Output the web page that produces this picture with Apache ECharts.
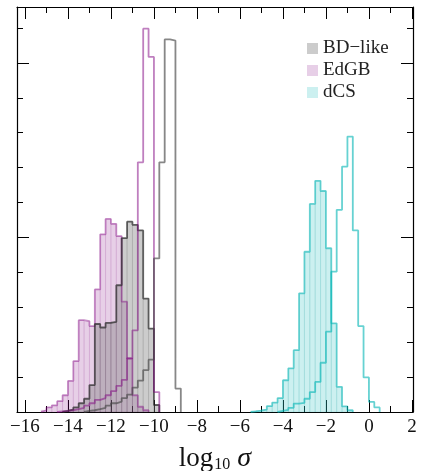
<!DOCTYPE html>
<html>
<head>
<meta charset="utf-8">
<script src="https://cdn.jsdelivr.net/npm/echarts@6/dist/echarts.min.js"></script>
<style>
  html, body {margin: 0; padding: 0; background: #fff;}
  #chart {width: 421px; height: 471px;}
</style>
</head>
<body>
<div id="chart"></div>
<script>
// histogram bins, width 0.25 in log10 sigma, heights
const binWidth = 0.25;
const xMajorTicks = [-16, -14, -12, -10, -8, -6, -4, -2, 0, 2];
const xMinorTicks = [-15, -13, -11, -9, -7, -5, -3, -1, 1];

// BD-like
const bdFilledStart = -14.25;
const bdFilled = [0.03, 0.07, 0.13, 0.25, 0.38, 0.77, 2.52, 2.42, 2.55, 2.58, 3.63, 4.98, 5.45, 5.36, 5.2, 3.25, 2.39, 0.2];
const bdOpenStart = -13.25;
const bdOpen = [0.03, 0.05, 0.08, 0.12, 0.18, 0.25, 0.3, 0.4, 0.5, 0.7, 0.9, 1.2, 1.5, 4.4, 7.15, 10.67, 10.64, 0.67];

// EdGB
const edgbFilledStart = -15.25;
const edgbFilled = [0.05, 0.13, 0.19, 0.31, 0.48, 0.89, 1.46, 2.63, 2.6, 2.46, 3.51, 5.09, 5.53, 5.39, 5.04, 3.16, 1.53, 0.48, 0.15, 0.05];
const edgbOpenStart = -14.5;
const edgbOpen = [0.02, 0.03, 0.05, 0.08, 0.12, 0.18, 0.25, 0.35, 0.4, 0.48, 0.6, 0.75, 0.92, 1.54, 2.34, 7.15, 10.98, 10.17, 0.57];

// dCS
const dcsFilledStart = -5.5;
const dcsFilled = [0.02, 0.04, 0.07, 0.17, 0.27, 0.4, 0.91, 1.25, 1.77, 3.4, 4.59, 5.96, 6.62, 6.33, 4.69, 2.54, 0.72, 0.16, 0.05];
const dcsOpenStart = -4.25;
const dcsOpen = [0.03, 0.06, 0.12, 0.24, 0.26, 0.38, 0.57, 0.86, 1.41, 2.3, 4.02, 5.79, 7.03, 7.89, 5.2, 2.46, 0.99, 0.29, 0.13];

const serif = 'Liberation Serif';

function toBins(start, heights) {
    return heights.map(function (h, i) {
        return [start + i * binWidth, start + (i + 1) * binWidth, h];
    });
}
function toStep(start, heights) {
    let pts = [[start, 0]];
    heights.forEach(function (h, i) {
        pts.push([start + i * binWidth, h]);
    });
    pts.push([start + heights.length * binWidth, 0]);
    return pts;
}

function filled(name, start, heights, fill, edge) {
    return {
        name: name, type: 'custom', xAxisIndex: 0, yAxisIndex: 0,
        itemStyle: {color: fill},
        data: toBins(start, heights),
        encode: {x: [0, 1], y: 2},
        renderItem: function (params, api) {
            let p0 = api.coord([api.value(0), api.value(2)]);
            let p1 = api.coord([api.value(1), 0]);
            return {
                type: 'rect',
                shape: {x: p0[0], y: p0[1], width: p1[0] - p0[0], height: p1[1] - p0[1]},
                style: {fill: fill, stroke: edge, lineWidth: 0.8}
            };
        }
    };
}
function outline(start, heights, color) {
    return {
        type: 'line', step: 'end', symbol: 'none', xAxisIndex: 0, yAxisIndex: 0,
        data: toStep(start, heights),
        lineStyle: {color: color, width: 1.8},
        silent: true
    };
}

function xAxisDef(pos, ticks, len, main) {
    return {
        type: 'value', position: pos, min: -16.37, max: 2.05,
        axisLine: {show: main, onZero: false, lineStyle: {color: '#000', width: 1.2}},
        axisTick: {show: true, inside: true, length: len, customValues: ticks, lineStyle: {color: '#000', width: 1}},
        axisLabel: {show: main && pos === 'bottom', customValues: ticks, margin: 6,
            fontFamily: serif, fontSize: 19, color: '#111',
            formatter: function (v) { return String(v).replace('-', '\u2212'); }},
        splitLine: {show: false}
    };
}
function yAxisDef(pos) {
    return {
        type: 'value', position: pos, min: 0, max: 11.6, interval: 5,
        axisLine: {show: true, onZero: false, lineStyle: {color: '#000', width: 1.2}},
        axisTick: {show: true, inside: true, length: 12, lineStyle: {color: '#000', width: 1}},
        minorTick: {show: true, splitNumber: 5, length: 6, lineStyle: {color: '#000', width: 1}},
        axisLabel: {show: false},
        splitLine: {show: false},
        minorSplitLine: {show: false}
    };
}

let xAxes = [
    xAxisDef('bottom', xMajorTicks, 12, true),
    xAxisDef('bottom', xMinorTicks, 6, false),
    xAxisDef('top', xMajorTicks, 12, true),
    xAxisDef('top', xMinorTicks, 6, false)
];
xAxes[0].name = '{a|log}{b|10}{c| \u03c3}';
xAxes[0].nameLocation = 'middle';
xAxes[0].nameGap = 33;
xAxes[0].nameTextStyle = {
    rich: {
        a: {fontFamily: serif, fontSize: 27, color: '#111'},
        b: {fontFamily: serif, fontSize: 16, color: '#111', verticalAlign: 'bottom', padding: [9, 0, 0, 1]},
        c: {fontFamily: serif, fontSize: 28, fontStyle: 'italic', color: '#111'}
    }
};

let e1 = echarts.init(document.getElementById('chart'), null, {renderer: 'canvas'});
e1.setOption({
    animation: false,
    backgroundColor: '#fff',
    grid: {left: 17, right: 8, top: 7, bottom: 59, containLabel: false, outerBoundsMode: 'none'},
    legend: {
        data: ['BD\u2212like', 'EdGB', 'dCS'],
        orient: 'vertical', left: 307, top: 39, padding: 0,
        icon: 'rect', itemWidth: 11, itemHeight: 11, itemGap: 3,
        textStyle: {fontFamily: serif, fontSize: 19, color: '#222', lineHeight: 18}
    },
    xAxis: xAxes,
    yAxis: [yAxisDef('left'), yAxisDef('right')],
    series: [
        filled('EdGB', edgbFilledStart, edgbFilled, 'rgba(128,0,128,0.19)', 'rgba(128,0,128,0.12)'),
        filled('BD\u2212like', bdFilledStart, bdFilled, 'rgba(128,128,128,0.4)', 'rgba(60,60,60,0.15)'),
        filled('dCS', dcsFilledStart, dcsFilled, 'rgba(72,200,200,0.28)', 'rgba(0,150,150,0.15)'),
        outline(edgbFilledStart, edgbFilled, 'rgba(128,0,128,0.42)'),
        outline(bdFilledStart, bdFilled, 'rgba(40,40,40,0.7)'),
        outline(dcsFilledStart, dcsFilled, 'rgba(0,180,180,0.55)'),
        outline(edgbOpenStart, edgbOpen, 'rgba(128,0,128,0.5)'),
        outline(bdOpenStart, bdOpen, 'rgba(70,70,70,0.65)'),
        outline(dcsOpenStart, dcsOpen, 'rgba(0,180,180,0.6)')
    ]
});
</script>
</body>
</html>
